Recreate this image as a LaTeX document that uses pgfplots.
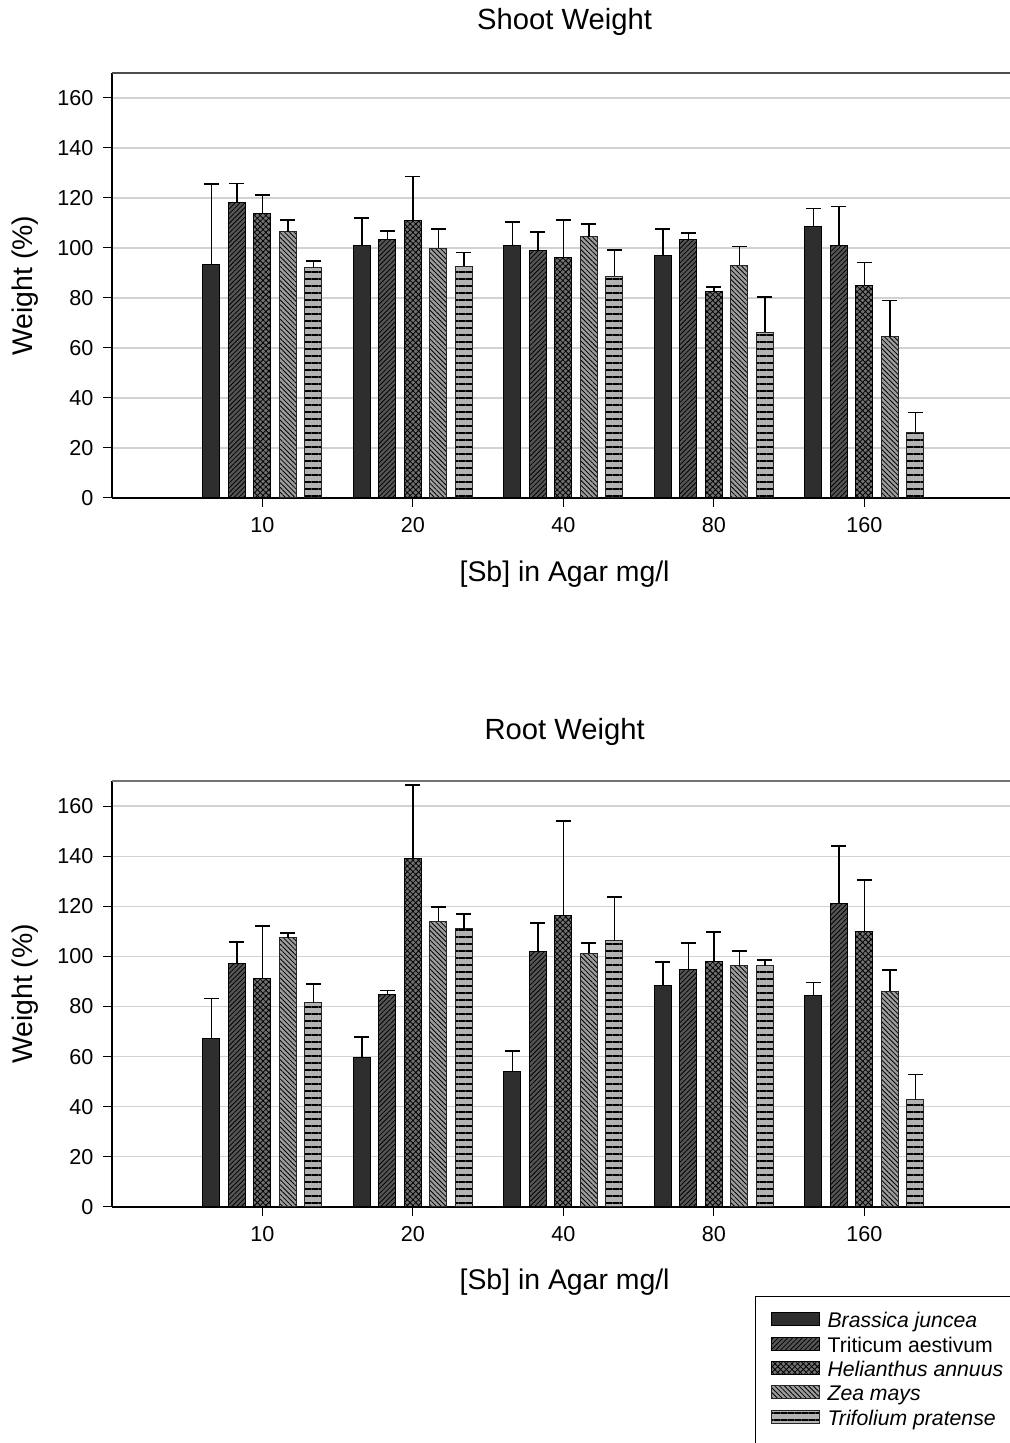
\documentclass[border=0pt]{standalone}
\usepackage{fontspec}
\setmainfont{Liberation Sans}
\usepackage{pgfplots}
\pgfplotsset{compat=1.18}
\usetikzlibrary{patterns.meta}
\definecolor{cB}{HTML}{2E2E2E}
\definecolor{cT}{HTML}{555555}
\definecolor{cH}{HTML}{707070}
\definecolor{cZ}{HTML}{9C9C9C}
\definecolor{cF}{HTML}{B2B2B2}
\definecolor{gridc}{HTML}{D2D2D2}
\pgfplotsset{
  bB/.style={fill=cB, draw=black, line width=0.5pt},
  bT/.style={fill=cT, draw=black, line width=0.5pt, postaction={pattern={Lines[angle=45,distance=1.7pt,line width=0.4pt]}, pattern color=black}},
  bH/.style={fill=cH, draw=black, line width=0.5pt, postaction={pattern={Hatch[angle=45,distance=2pt,line width=0.4pt]}, pattern color=black}},
  bZ/.style={fill=cZ, draw=black!85, line width=0.5pt, postaction={pattern={Lines[angle=-45,distance=1.7pt,line width=0.4pt]}, pattern color=black}},
  bF/.style={fill=cF, draw=black!85, line width=0.5pt, postaction={pattern={Lines[angle=0,distance=3.5pt,line width=0.55pt,yshift=1pt]}, pattern color=black}},
  myaxis/.style={
    scale only axis,
    width=449pt,
    xmin=0, xmax=5.967,
    ymin=0, ymax=170,
    ybar=4.25pt,
    bar width=8.5pt,
    axis lines*=left,
    axis line style={-, black, line width=0.6pt},
    xtick={1,2,3,4,5},
    xticklabels={10,20,40,80,160},
    ytick={0,20,...,160},
    tick align=outside,
    major tick length=4.3pt,
    tick style={black, line width=0.5pt},
    ymajorgrids,
    grid style={gridc, line width=0.6pt},
    /pgf/number format/assume math mode=true,
    tick label style={font=\fontsize{10.8pt}{12pt}\selectfont},
    yticklabel style={xshift=-1.5pt},
    xticklabel style={yshift=-2pt},
    label style={font=\fontsize{14.2pt}{16pt}\selectfont},
    title style={font=\fontsize{14.6pt}{16pt}\selectfont, anchor=center},
    xlabel={[Sb] in Agar mg/l},
    ylabel={Weight (\%)},
    ylabel style={at={(axis description cs:-0.0969,0.5)}, anchor=center},
    error bars/y dir=plus,
    error bars/y explicit,
    error bars/error bar style={draw=black, line width=0.9pt},
    error bars/error mark options={rotate=90, mark size=3.75pt, line width=0.9pt, draw=black},
    legend image code/.code={\draw[#1] (0pt,-1.9pt) rectangle (24pt,4.6pt);},
  }
}
\begin{document}
\begin{tikzpicture}[x=1pt,y=1pt]
\path[use as bounding box] (0,0) rectangle (505,721.5);
% ---------- Shoot Weight ----------
\begin{axis}[myaxis,
  at={(56pt,472.5pt)}, anchor=south west, height=212.5pt,
  title={Shoot Weight},
  title style={at={(axis description cs:0.504,1.091)}},
  xlabel style={at={(axis description cs:0.504,-0.179)}, anchor=center},
]
\addplot[bB] coordinates {(1,93.4) +- (0,32.2) (2,100.8) +- (0,11.3) (3,101.0) +- (0,9.3) (4,96.8) +- (0,10.7) (5,108.4) +- (0,7.4)};
\addplot[bT] coordinates {(1,118.0) +- (0,7.8) (2,103.5) +- (0,3.2) (3,98.8) +- (0,7.5) (4,103.4) +- (0,2.5) (5,101.0) +- (0,15.6)};
\addplot[bH] coordinates {(1,113.6) +- (0,7.7) (2,110.8) +- (0,17.8) (3,96.0) +- (0,15.1) (4,82.7) +- (0,1.6) (5,85.0) +- (0,9.2)};
\addplot[bZ] coordinates {(1,106.5) +- (0,4.8) (2,99.8) +- (0,7.9) (3,104.5) +- (0,5.0) (4,93.1) +- (0,7.5) (5,64.5) +- (0,14.5)};
\addplot[bF] coordinates {(1,92.1) +- (0,2.6) (2,92.6) +- (0,5.6) (3,88.7) +- (0,10.4) (4,66.2) +- (0,14.1) (5,26.3) +- (0,7.9)};
\draw[black!70, line width=0.6pt] (rel axis cs:0,1) -- (rel axis cs:1,1);
\end{axis}
% ---------- Root Weight ----------
\begin{axis}[myaxis,
  at={(56pt,118pt)}, anchor=south west, height=213pt,
  title={Root Weight},
  title style={at={(axis description cs:0.504,1.087)}},
  xlabel style={at={(axis description cs:0.504,-0.176)}, anchor=center},
  legend style={at={(axis description cs:0.716,-0.209)}, anchor=north west,
    draw=black, line width=0.6pt, inner xsep=7.5pt, inner ysep=6.5pt,
    font=\fontsize{10.6pt}{12pt}\selectfont, row sep=0pt, column sep=3pt,
    nodes={inner sep=1pt, text height=8pt, text depth=2.2pt}},
  legend cell align=left,
]
\addplot[bB] coordinates {(1,67.1) +- (0,16.1) (2,59.5) +- (0,8.4) (3,53.9) +- (0,8.2) (4,88.5) +- (0,9.2) (5,84.3) +- (0,5.3)};
\addlegendentry{\textit{Brassica juncea}}
\addplot[bT] coordinates {(1,97.2) +- (0,8.5) (2,84.7) +- (0,1.7) (3,101.9) +- (0,11.4) (4,94.7) +- (0,10.8) (5,121.2) +- (0,22.7)};
\addlegendentry{Triticum aestivum}
\addplot[bH] coordinates {(1,91.3) +- (0,20.8) (2,139.1) +- (0,29.3) (3,116.5) +- (0,37.5) (4,97.9) +- (0,12.0) (5,110.0) +- (0,20.5)};
\addlegendentry{\textit{Helianthus annuus}}
\addplot[bZ] coordinates {(1,107.5) +- (0,1.8) (2,114.1) +- (0,5.5) (3,101.3) +- (0,3.9) (4,96.3) +- (0,5.8) (5,86.0) +- (0,8.7)};
\addlegendentry{\textit{Zea mays}}
\addplot[bF] coordinates {(1,81.5) +- (0,7.4) (2,111.1) +- (0,5.8) (3,106.3) +- (0,17.4) (4,96.3) +- (0,2.2) (5,42.7) +- (0,10.2)};
\addlegendentry{\textit{Trifolium pratense}}
\draw[black!55, line width=0.6pt] (rel axis cs:0,1) -- (rel axis cs:1,1);
\end{axis}
\end{tikzpicture}
\end{document}
